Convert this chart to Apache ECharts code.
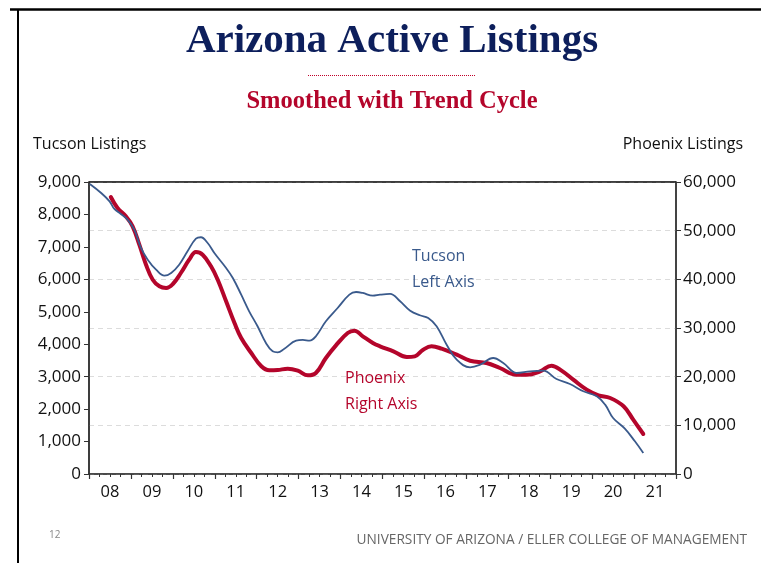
<!DOCTYPE html>
<html>
<head>
<meta charset="utf-8">
<script src="https://cdn.jsdelivr.net/npm/echarts@6/dist/echarts.min.js"></script>
<style>
  html, body { margin: 0; padding: 0; background: #fff; }
  #main { width: 761px; height: 563px; }
</style>
</head>
<body>
<div id="main"></div>
<script>
// year labels under the axis
var yearLabels = ['08','09','10','11','12','13','14','15','16','17','18','19','20','21'];

// Tucson (left axis), time in fractional years
var tucsonX = [2008.02,2008.29,2008.49,2008.6,2008.76,2008.92,2009.08,2009.24,2009.4,2009.6,2009.8,2009.96,
  2010.15,2010.35,2010.55,2010.67,2010.83,2010.99,2011.27,2011.43,2011.63,2011.82,2012.02,2012.22,2012.38,2012.5,
  2012.66,2012.94,2013.1,2013.26,2013.41,2013.65,2013.93,2014.21,2014.37,2014.53,2014.77,2014.94,2015.18,2015.42,
  2015.66,2015.89,2016.09,2016.29,2016.53,2016.77,2017.09,2017.33,2017.64,2017.88,2018.2,2018.52,2018.83,2019.15,
  2019.47,2019.79,2020.11,2020.31,2020.5,2020.78,2021.02,2021.22];
var tucsonY = [8940,8662,8405,8178,8015,7840,7530,6967,6606,6298,6113,6196,
  6452,6865,7254,7297,7120,6812,6350,6042,5528,5015,4553,4038,3782,3751,
  3863,4110,4131,4110,4244,4707,5117,5528,5610,5580,5497,5528,5549,5323,
  5035,4892,4809,4553,3986,3524,3289,3370,3576,3422,3113,3165,3185,2928,
  2774,2549,2395,2137,1726,1397,1007,647];

// Phoenix (right axis)
var phoenixX = [2008.52,2008.68,2008.88,2009.04,2009.2,2009.36,2009.52,2009.68,2009.84,2010.0,2010.19,2010.39,
  2010.55,2010.71,2010.91,2011.07,2011.27,2011.47,2011.63,2011.87,2012.11,2012.3,2012.5,2012.74,2012.98,2013.22,
  2013.41,2013.65,2013.89,2014.17,2014.33,2014.53,2014.77,2014.94,2015.26,2015.58,2015.77,2015.97,2016.17,2016.41,
  2016.77,2017.09,2017.48,2017.8,2018.2,2018.44,2018.76,2019.03,2019.27,2019.55,2019.87,2020.15,2020.43,2020.75,
  2020.98,2021.22];
var phoenixY = [56914,54653,52940,50900,47115,43005,39925,38565,38220,39040,41300,44035,
  45615,45065,42670,39925,35480,31025,27945,24860,22130,21300,21370,21640,21230,20270,
  20750,23835,26440,28970,29450,28290,26920,26240,25210,24040,24180,25540,26240,25750,
  24520,23280,22810,21780,20400,20400,21100,22250,21230,19380,17330,16170,15620,13910,
  11160,8220];

function pairs(xs, ys) {
  var out = [];
  for (var i = 0; i < xs.length; i++) out.push([xs[i], ys[i]]);
  return out;
}

var BLUE = '#3a5a8c';
var RED = '#b4052b';
var SANS = '"Open Sans", "Noto Sans", sans-serif';
var SERIF = '"Liberation Serif", "Times New Roman", serif';

var chart = echarts.init(document.getElementById('main'), null, { renderer: 'canvas' });

var option = {
  backgroundColor: '#fff',
  animation: false,
  grid: {
    left: 89, right: 85, top: 182, bottom: 89,
    show: true, borderColor: '#222', borderWidth: 1.2
  },
  xAxis: [
    {
      type: 'value', min: 2008, max: 2022, interval: 1,
      axisLine: { lineStyle: { color: '#333', width: 1.5 } },
      axisTick: { show: true, length: 5, lineStyle: { color: '#333', width: 1.2 } },
      minorTick: { show: true, splitNumber: 4, length: 3, lineStyle: { color: '#333', width: 1 } },
      axisLabel: { show: false },
      splitLine: { show: false }
    },
    {
      type: 'category', data: yearLabels, position: 'bottom', boundaryGap: true,
      axisLine: { show: false }, axisTick: { show: false },
      axisLabel: { color: '#111', fontFamily: SANS, fontSize: 16.5, margin: 10 }
    }
  ],
  yAxis: [
    {
      type: 'value', min: 0, max: 9000, interval: 1000, position: 'left',
      axisLine: { show: true, lineStyle: { color: '#333', width: 1.7 } },
      axisTick: { show: true, length: 5, lineStyle: { color: '#333' } },
      axisLabel: {
        color: '#111', fontFamily: SANS, fontSize: 17, margin: 8,
        formatter: function (v) { return v.toLocaleString('en-US'); }
      },
      splitLine: { show: false }
    },
    {
      type: 'value', min: 0, max: 60000, interval: 10000, position: 'right',
      axisLine: { show: true, lineStyle: { color: '#333', width: 1.5 } },
      axisTick: { show: true, length: 5, lineStyle: { color: '#333' } },
      axisLabel: {
        color: '#111', fontFamily: SANS, fontSize: 17, margin: 7,
        formatter: function (v) { return v.toLocaleString('en-US'); }
      },
      splitLine: { show: true, lineStyle: { color: '#dcdcdc', type: [5, 4], width: 1 } }
    }
  ],
  series: [
    {
      name: 'Tucson', type: 'line', xAxisIndex: 0, yAxisIndex: 0,
      data: pairs(tucsonX, tucsonY), smooth: 0.4, showSymbol: false,
      lineStyle: { color: BLUE, width: 1.8 }, z: 3
    },
    {
      name: 'Phoenix', type: 'line', xAxisIndex: 0, yAxisIndex: 1,
      data: pairs(phoenixX, phoenixY), smooth: 0.4, showSymbol: false,
      lineStyle: { color: RED, width: 4, cap: 'round' }, z: 2
    }
  ],
  graphic: [
    // slide border
    { type: 'line', shape: { x1: 10, y1: 9.5, x2: 761, y2: 9.5 }, style: { stroke: '#000', lineWidth: 2.5 } },
    { type: 'line', shape: { x1: 18, y1: 9, x2: 18, y2: 563 }, style: { stroke: '#000', lineWidth: 2 } },
    // top edge of the plot frame
    { type: 'line', z: 10, shape: { x1: 89, y1: 182, x2: 676, y2: 182 }, style: { stroke: '#222', lineWidth: 1.5 } },
    { type: 'text', x: 392, y: 21,
      style: { text: 'Arizona Active Listings', fill: '#0d1f5c', font: 'bold 41px ' + SERIF, textAlign: 'center' } },
    { type: 'line', shape: { x1: 308, y1: 75.5, x2: 475, y2: 75.5 },
      style: { stroke: '#c0002a', lineWidth: 1, lineDash: [1, 1] } },
    { type: 'text', x: 392, y: 89,
      style: { text: 'Smoothed with Trend Cycle', fill: '#b4052b', font: 'bold 24.5px ' + SERIF, textAlign: 'center' } },
    { type: 'text', x: 33, y: 136, style: { text: 'Tucson Listings', fill: '#111', font: '16px ' + SANS } },
    { type: 'text', x: 743, y: 136, style: { text: 'Phoenix Listings', fill: '#111', font: '16px ' + SANS, textAlign: 'right' } },
    { type: 'text', z: 100, x: 412, y: 248, style: { text: 'Tucson', fill: BLUE, font: '16px ' + SANS } },
    { type: 'text', z: 100, x: 412, y: 274, style: { text: 'Left Axis', fill: BLUE, font: '16px ' + SANS } },
    { type: 'text', z: 100, x: 345, y: 370, style: { text: 'Phoenix', fill: RED, font: '16px ' + SANS } },
    { type: 'text', z: 100, x: 345, y: 396, style: { text: 'Right Axis', fill: RED, font: '16px ' + SANS } },
    { type: 'text', x: 49, y: 530, style: { text: '12', fill: '#888', font: '10px ' + SANS } },
    { type: 'text', x: 747, y: 533, style: { text: 'UNIVERSITY OF ARIZONA / ELLER COLLEGE OF MANAGEMENT', fill: '#666', font: '13.7px ' + SANS, textAlign: 'right' } }
  ]
};

chart.setOption(option);
</script>
</body>
</html>
